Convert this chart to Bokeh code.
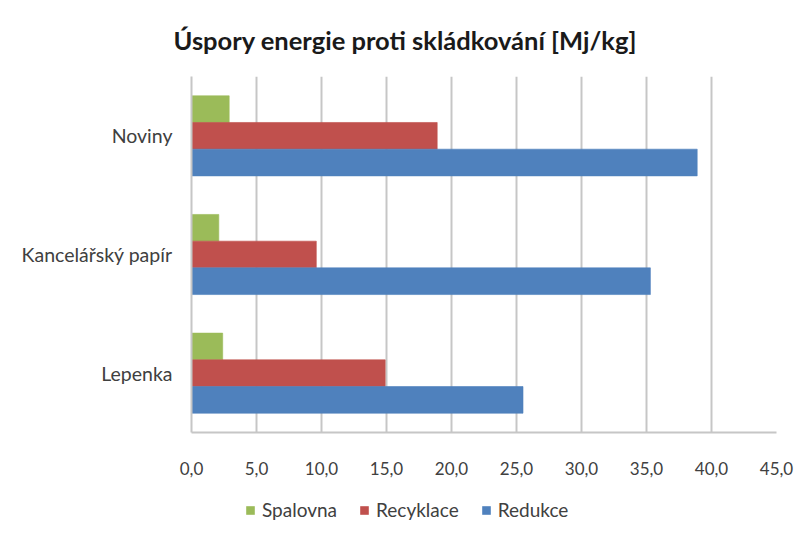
from bokeh.plotting import figure
from bokeh.layouts import column
from bokeh.models import FactorRange, Range1d, FixedTicker, Legend, LegendItem, ColumnDataSource
from bokeh.transform import dodge
from bokeh.embed import file_html
from bokeh.resources import INLINE

categories = ["Noviny", "Kancelářský papír", "Lepenka"]
spalovna = [2.9, 2.1, 2.4]
recyklace = [18.9, 9.6, 14.9]
redukce = [38.9, 35.3, 25.5]
series_names = ["Spalovna", "Recyklace", "Redukce"]
series_colors = ["#9bbb59", "#c0504d", "#4f81bd"]
tick_values = [0, 5, 10, 15, 20, 25, 30, 35, 40, 45]
tick_labels = ["0,0", "5,0", "10,0", "15,0", "20,0", "25,0", "30,0", "35,0", "40,0", "45,0"]
title_text = "Úspory energie proti skládkování [Mj/kg]"

source = ColumnDataSource(dict(cat=categories, s=spalovna, r=recyklace, d=redukce))

p = figure(
    width=797, height=490,
    y_range=FactorRange(*categories[::-1]),
    x_range=Range1d(0, 45),
    output_backend="svg", toolbar_location=None,
    min_border_left=191, min_border_right=21, min_border_top=76, min_border_bottom=58,
)
p.title.text = title_text
p.title.align = "left"
p.title.offset = -18
p.title.text_font = "Lato"
p.title.text_font_size = "25.5px"
p.title.text_font_style = "bold"
p.title.text_color = "#1a1a1a"
p.title.standoff = 43

p.outline_line_color = None
p.background_fill_color = "white"
p.border_fill_color = "white"

offsets = [0.225, 0.0, -0.225]
fields = ["s", "r", "d"]
for f, off, c in zip(fields, offsets, series_colors):
    p.hbar(y=dodge("cat", off, range=p.y_range), right=f, left=0, height=0.225,
           source=source, fill_color=c, line_color=c, line_alpha=0.6)

p.xgrid.grid_line_color = "#c6c6c6"
p.xgrid.grid_line_width = 2
p.ygrid.grid_line_color = None

xa = p.xaxis[0]
xa.ticker = FixedTicker(ticks=tick_values)
xa.major_label_overrides = {v: l for v, l in zip(tick_values, tick_labels)}
xa.axis_line_color = "#c6c6c6"
xa.axis_line_width = 2
xa.major_tick_line_color = None
xa.minor_tick_line_color = None
xa.major_label_standoff = 23
xa.major_label_text_font = "Lato"
xa.major_label_text_font_size = "17px"
xa.major_label_text_color = "#404040"

ya = p.yaxis[0]
ya.axis_line_color = "#c6c6c6"
ya.axis_line_width = 2
ya.major_tick_line_color = None
ya.minor_tick_line_color = None
ya.major_label_standoff = 13
ya.major_label_text_font = "Lato"
ya.major_label_text_font_size = "19.5px"
ya.major_label_text_color = "#404040"

# legend strip below the chart (shares the chart's ranges; its bars are hidden)
lf = figure(
    width=797, height=36, x_range=p.x_range, y_range=p.y_range,
    x_axis_type=None, y_axis_type=None,
    output_backend="svg", toolbar_location=None,
    min_border_left=0, min_border_right=0, min_border_top=0, min_border_bottom=0,
)
lf.outline_line_color = None
lf.xgrid.grid_line_color = None
lf.ygrid.grid_line_color = None
lf.border_fill_color = "white"
items = []
for n, f, off, c in zip(series_names, fields, offsets, series_colors):
    r = lf.hbar(y=dodge("cat", off, range=lf.y_range), right=f, left=0, height=0.225,
                source=source, fill_color=c, line_color=c, line_alpha=0.6, visible=False)
    items.append(LegendItem(label=n, renderers=[r]))
legend = Legend(
    items=items, orientation="horizontal", location=(54, 5),
    border_line_color=None, background_fill_alpha=0, inactive_fill_alpha=0,
    glyph_width=10, glyph_height=10, label_text_font="Lato", label_text_font_size="19px",
    label_text_color="#404040", spacing=22, label_standoff=7, padding=0, margin=0,
)
lf.add_layout(legend, "center")

layout = column(p, lf, spacing=0)
open("out.html", "w").write(file_html(layout, INLINE))
